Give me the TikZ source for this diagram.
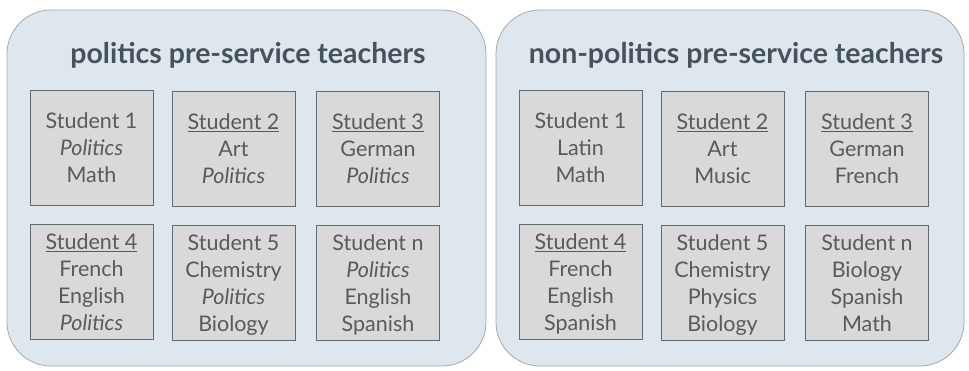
\documentclass[tikz,border=0pt]{standalone}
\usepackage{fontspec}
\setmainfont{Lato}
\usetikzlibrary{positioning}
\definecolor{panelfill}{HTML}{DDE7ED}
\definecolor{paneldraw}{HTML}{A4ABB0}
\definecolor{boxfill}{HTML}{D9D9D9}
\definecolor{boxdraw}{HTML}{5F6A73}
\definecolor{titletext}{HTML}{48525B}
\definecolor{boxtext}{HTML}{5A5A5A}
\tikzset{
	panel/.style={draw=paneldraw, fill=panelfill, line width=0.8pt, rounded corners=44pt},
	paneltitle/.style={text=titletext, font=\fontsize{28.5}{32}\selectfont\bfseries},
	studentbox/.style={draw=boxdraw, fill=boxfill, line width=0.8pt, minimum width=123pt, minimum height=115pt, align=center, inner sep=0pt, text depth=0pt, text=boxtext, font=\fontsize{21.5}{27}\selectfont}
}
\begin{document}
\begin{tikzpicture}[x=1pt,y=-1pt]
			\useasboundingbox (0,0) rectangle (969,370);
			\draw[panel] (7,10) rectangle (486,366);
			\draw[panel] (496,10) rectangle (964,366);
			\node[paneltitle] (poltitle) at (248,55) {politics pre-service teachers};
			\node[paneltitle] (nontitle) at (736,55) {non-politics pre-service teachers};
			\node[studentbox] (pol1) at (91.5,148) {Student 1\\\textit{Politics}\\Math};
			\node[studentbox] (pol2) at (233.5,149) {\underline{Student 2}\\Art\\\textit{Politics}};
			\node[studentbox] (pol3) at (378,149) {\underline{Student 3}\\German\\\textit{Politics}};
			\node[studentbox] (pol4) at (91.5,282) {\underline{Student 4}\\French\\English\\\textit{Politics}};
			\node[studentbox] (pol5) at (233.5,283) {Student 5\\Chemistry\\\textit{Politics}\\Biology};
			\node[studentbox] (poln) at (378,283) {Student n\\\textit{Politics}\\English\\Spanish};
			\node[studentbox] (non1) at (580.5,148) {Student 1\\Latin\\Math};
			\node[studentbox] (non2) at (722.5,149) {\underline{Student 2}\\Art\\Music};
			\node[studentbox] (non3) at (867,149) {\underline{Student 3}\\German\\French};
			\node[studentbox] (non4) at (580.5,282) {\underline{Student 4}\\French\\English\\Spanish};
			\node[studentbox] (non5) at (722.5,283) {Student 5\\Chemistry\\Physics\\Biology};
			\node[studentbox] (nonn) at (867,283) {Student n\\Biology\\Spanish\\Math};
\end{tikzpicture}
\end{document}
